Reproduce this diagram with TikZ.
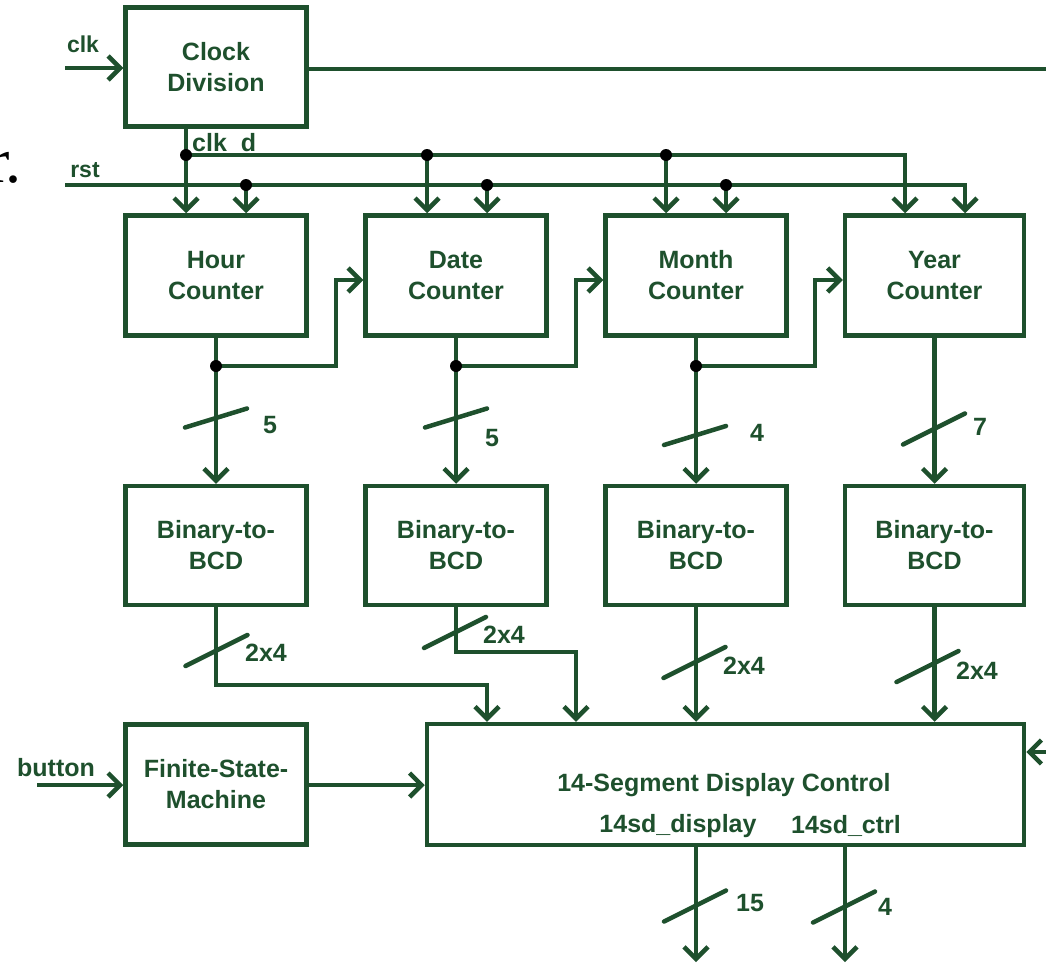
\documentclass[tikz,border=0pt]{standalone}
\usepackage{fontspec}
\setmainfont{Liberation Sans}
\newfontfamily\artifactfont{Liberation Serif}
\usetikzlibrary{arrows.meta}
\definecolor{wg}{RGB}{30,80,45}
\begin{document}
\begin{tikzpicture}[x=1pt,y=-1pt,
  wire/.style={draw=wg, line width=4.5pt},
  arr/.style={wire, -{Straight Barb[length=12pt,width=24pt,line width=4.5pt]}},
  box/.style={draw=wg, line width=4.5pt, minimum width=181pt, minimum height=120pt, inner sep=0pt, align=center, text=wg, font=\bfseries\fontsize{25}{31}\selectfont},
  lbl/.style={text=wg, font=\bfseries\fontsize{25}{30}\selectfont, inner sep=0pt},
  slbl/.style={text=wg, font=\bfseries\fontsize{23}{28}\selectfont, inner sep=0pt},
  dot/.style={circle, fill=black, inner sep=0pt, minimum size=12pt},
  bus/.pic={\draw[wg, line width=4.5pt, line cap=round] (-31,9.5) -- (31,-9.5);},
  busb/.pic={\draw[wg, line width=4.5pt, line cap=round] (-31,15.5) -- (31,-15.5);}
]
\useasboundingbox (0,0) rectangle (1046,966);

% fragment of a neighbouring figure
\node[font=\artifactfont\fontsize{64}{64}\selectfont, text=black, inner sep=0pt, anchor=base west] (art) at (-12,182) {r.};

% blocks
\node[box, minimum height=119pt] (cd) at (216,67) {Clock\\Division};
\node[box] (hour)  at (216,275.5) {Hour\\Counter};
\node[box] (date)  at (456,275.5) {Date\\Counter};
\node[box] (month) at (696,275.5) {Month\\Counter};
\node[box, minimum width=179pt] (year) at (934.5,275.5) {Year\\Counter};
\node[box, minimum height=119pt] (hb) at (216,545.5) {Binary-to-\\BCD};
\node[box, minimum height=119pt] (db) at (456,545.5) {Binary-to-\\BCD};
\node[box, minimum height=119pt] (mb) at (696,545.5) {Binary-to-\\BCD};
\node[box, minimum height=119pt, minimum width=179pt] (yb) at (934.5,545.5) {Binary-to-\\BCD};
\node[box] (fsm) at (216,784.5) {Finite-State-\\Machine};
\node[box, minimum width=597pt, minimum height=121pt] (disp) at (725.5,784.5) {};
\node[lbl] (title) at (724,785) {14-Segment Display Control};
\node[lbl] (pdisp) at (678,826) {14sd\_display};
\node[lbl] (pctrl) at (846,826) {14sd\_ctrl};

% coordinates
\coordinate (clkin) at (65,68);
\coordinate (cdout) at (1046,69);
\coordinate (jclk) at (186,155);
\coordinate (jc2) at (427,155);
\coordinate (jc3) at (666,155);
\coordinate (jc4) at (905,155);
\coordinate (rstin) at (65,185);
\coordinate (jr1) at (246,185);
\coordinate (jr2) at (487,185);
\coordinate (jr3) at (726,185);
\coordinate (jr4) at (965,185);
\coordinate (h1) at (216,366);
\coordinate (h2) at (336,366);
\coordinate (h3) at (336,280);
\coordinate (d1) at (456,366);
\coordinate (d2) at (576,366);
\coordinate (d3) at (576,280);
\coordinate (m1) at (696,366);
\coordinate (m2) at (815,366);
\coordinate (m3) at (815,280);
\coordinate (hb1) at (216,685);
\coordinate (hb2) at (487,685);
\coordinate (db1) at (456,652);
\coordinate (db2) at (576,652);
\coordinate (btn) at (37,785);
\coordinate (rin) at (1046,752);
\coordinate (o1) at (696,962);
\coordinate (o2) at (845,962);

% clock
\draw[arr] (clkin) -- (cd.west |- clkin);
\draw[wire] (cd.east |- cdout) -- (cdout);
\draw[wire] (cd.south -| jclk) -- (jclk);
\draw[arr] (jclk) -- (hour.north -| jclk);
\draw[arr] (jclk) -- (jc4) -- (year.north -| jc4);
\draw[arr] (jc2) -- (date.north -| jc2);
\draw[arr] (jc3) -- (month.north -| jc3);
% reset
\draw[arr] (rstin) -- (jr4) -- (year.north -| jr4);
\draw[arr] (jr1) -- (hour.north -| jr1);
\draw[arr] (jr2) -- (date.north -| jr2);
\draw[arr] (jr3) -- (month.north -| jr3);
\foreach \p in {jclk,jc2,jc3,jr1,jr2,jr3} \node[dot] at (\p) {};

% counters to BCD and carries
\draw[arr] (hour.south -| h1) -- (hb.north -| h1);
\draw[arr] (h1) -- (h2) -- (h3) -- (date.west |- h3);
\draw[arr] (date.south -| d1) -- (db.north -| d1);
\draw[arr] (d1) -- (d2) -- (d3) -- (month.west |- d3);
\draw[arr] (month.south -| m1) -- (mb.north -| m1);
\draw[arr] (m1) -- (m2) -- (m3) -- (year.west |- m3);
\draw[arr] (year.south) -- (yb.north);
\foreach \p in {h1,d1,m1} \node[dot] at (\p) {};

% BCD to display
\draw[arr] (hb.south -| hb1) -- (hb1) -- (hb2) -- (disp.north -| hb2);
\draw[arr] (db.south -| db1) -- (db1) -- (db2) -- (disp.north -| db2);
\draw[arr] (mb.south -| m1) -- (disp.north -| m1);
\draw[arr] (yb.south) -- (disp.north -| yb.south);

% FSM
\draw[arr] (btn) -- (fsm.west |- btn);
\draw[arr] (fsm.east |- btn) -- (disp.west |- btn);
\draw[arr] (rin) -- (disp.east |- rin);

% outputs
\draw[arr] (disp.south -| o1) -- (o1);
\draw[arr] (disp.south -| o2) -- (o2);

% bus marks
\pic at (216,418) {bus};
\pic at (456,418) {bus};
\pic at (695,435.5) {bus};
\pic at (934,429) {busb};
\pic at (216.5,650.5) {busb};
\pic at (455,632.5) {busb};
\pic at (694.5,662.5) {busb};
\pic at (927.5,666.5) {busb};
\pic at (695,906) {busb};
\pic at (844,907) {busb};

% labels
\node[slbl] (lclk) at (83,44) {clk};
\node[slbl] (lrst) at (85,170) {rst};
\node[lbl, anchor=west] (lclkd) at (192,144) {clk\_d};
\node[lbl] (lbtn) at (56,768) {button};
\node[lbl] (n1) at (270,425) {5};
\node[lbl] (n2) at (492,438) {5};
\node[lbl] (n3) at (757,433) {4};
\node[lbl] (n4) at (980,427) {7};
\node[lbl] (n5) at (266,653) {2x4};
\node[lbl] (n6) at (504,635) {2x4};
\node[lbl] (n7) at (744,666) {2x4};
\node[lbl] (n8) at (977,671) {2x4};
\node[lbl] (n9) at (750,903) {15};
\node[lbl] (n10) at (885,907) {4};
\end{tikzpicture}
\end{document}
